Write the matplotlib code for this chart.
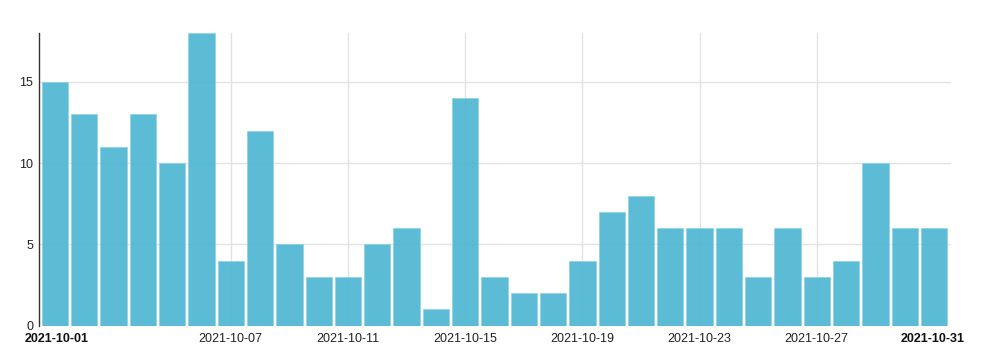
import matplotlib
matplotlib.use("Agg")
import matplotlib.pyplot as plt
import numpy as np

plt.rcParams['font.family'] = ['Liberation Sans', 'DejaVu Sans']

dates = [f"2021-10-{d:02d}" for d in range(1, 32)]
values = [15, 13, 11, 13, 10, 18, 4, 12, 5, 3, 3, 5, 6, 1, 14, 3, 2, 2, 4, 7,
          8, 6, 6, 6, 3, 6, 3, 4, 10, 6, 6]
grid_dates = ["2021-10-07", "2021-10-11", "2021-10-15", "2021-10-19",
              "2021-10-23", "2021-10-27"]
y_ticks = [0, 5, 10, 15]

fig = plt.figure(figsize=(9.98, 3.58), dpi=100)
W, H = 998, 358
ax = fig.add_axes([38.7 / W, (H - 325.7) / H, (951 - 38.7) / W, (325.7 - 33) / H])

x = np.arange(len(dates))
ax.set_axisbelow(True)
ax.bar(x, values, width=0.9, color='#4fb7d3', alpha=0.93, edgecolor='#8fd3e6',
       linewidth=0.6, zorder=2)

ax.set_xlim(-0.556, 30.58)
ax.set_ylim(0, 18)

grid_pos = [dates.index(d) for d in grid_dates]
for gp in grid_pos:
    ax.axvline(gp, color='#e2e2e2', lw=1, zorder=1)
for yv in y_ticks[1:]:
    ax.axhline(yv, color='#e2e2e2', lw=1, zorder=1)

ax.set_yticks(y_ticks)
ax.set_yticklabels([str(v) for v in y_ticks], fontsize=9, color='#222222')
ax.tick_params(axis='y', length=0, pad=4)
ax.set_xticks([])

trans = ax.get_xaxis_transform()
ly = -0.025
for gp, d in zip(grid_pos, grid_dates):
    ax.text(gp, ly, d, transform=trans, ha='center', va='top', fontsize=9,
            color='#222222')
ax.text(-0.556 - 0.47, ly, dates[0], transform=trans, ha='left', va='top',
        fontsize=9, fontweight='bold', color='#111111')
ax.text(30.58 + 0.47, ly, dates[-1], transform=trans, ha='right', va='top',
        fontsize=9, fontweight='bold', color='#111111')

for s in ['top', 'right', 'bottom']:
    ax.spines[s].set_visible(False)
ax.spines['left'].set_color('#333333')
ax.spines['left'].set_linewidth(1)

fig.savefig("out.png", dpi=100)
